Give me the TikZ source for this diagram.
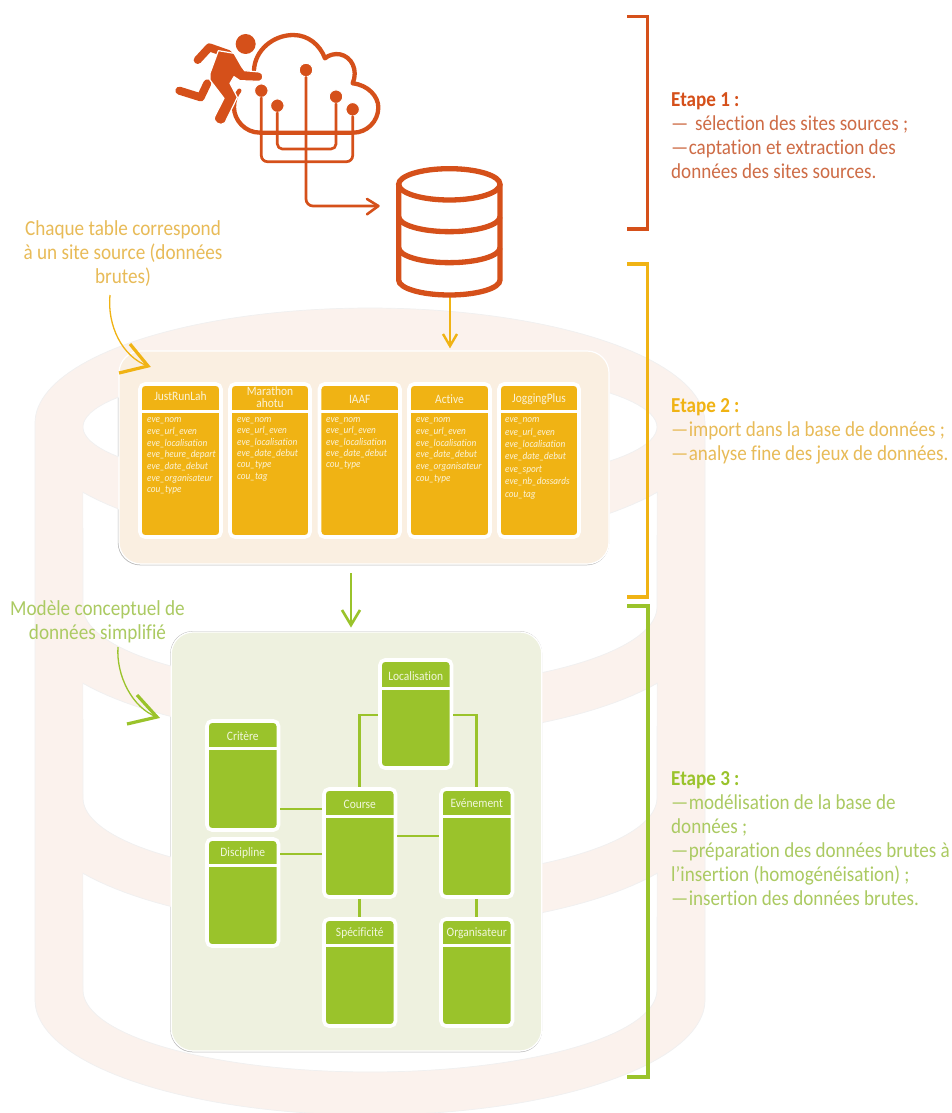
\documentclass[tikz,border=0pt]{standalone}
\usepackage{fontspec}
\setmainfont[FakeStretch=0.896,Ligatures=NoCommon]{Carlito}
\usetikzlibrary{calc}
\definecolor{rouge}{HTML}{D5501A}
\definecolor{rougetxt}{HTML}{CE6C46}
\definecolor{jaune}{HTML}{F0B314}
\definecolor{jaunetxt}{HTML}{E8BB58}
\definecolor{vert}{HTML}{9AC32B}
\definecolor{verttxt}{HTML}{ABCA62}
\definecolor{rosepale}{HTML}{FBF2ED}
\definecolor{panelj}{HTML}{FAEFE1}
\definecolor{panelv}{HTML}{EEF1DF}
\definecolor{bordg}{HTML}{BDBDBD}
\definecolor{titre}{HTML}{FBF3D8}
\definecolor{titrev}{HTML}{F1F6DC}
\tikzset{
  panelbox/.style={draw=white,line width=1.2pt,rounded corners=22pt,inner sep=0pt,outer sep=0pt},
  tablebox/.style={draw=white,line width=3.6pt,rounded corners=5pt,inner sep=0pt,outer sep=0pt},
  tabtitle/.style={inner sep=0pt,align=center,font=\fontsize{12.8}{12}\selectfont},
  field/.style={inner sep=0pt,anchor=north west,align=left,text=titre},
  stepline/.style={line width=3.6pt,line cap=butt,line join=miter},
  steptext/.style={inner sep=0pt,anchor=north west,align=left,font=\fontsize{21.3}{24}\selectfont},
  note/.style={inner sep=0pt,align=center,font=\fontsize{21.4}{24}\selectfont},
  iconline/.style={draw=rouge,line width=2.7pt,line cap=round,line join=round},
  dot/.style={circle,fill=rouge,draw=white,line width=1pt,minimum size=13.5pt,inner sep=0pt},
  link/.style={draw=vert,line width=2.8pt,shorten >=1.8pt,shorten <=1.8pt},
}
\newcommand{\dd}{—\kern-4pt\ }
% #1 name #2 x1 #3 y1 #4 x2 #5 y2 #6 fill #7 header line y
\newcommand{\tabbox}[7]{%
  \node[tablebox,fill=#6,minimum width={#4-#2},minimum height={#5-#3}] (#1) at ({(#2+#4)/2},{(#3+#5)/2}) {};
  \draw[white,line width=3pt] ({#2-1.5},#7) -- ({#4+1.5},#7);
}
\begin{document}
\begin{tikzpicture}[x=1pt,y=-1pt]
\useasboundingbox (0,0) rectangle (951,1113);
\clip (0,0) rectangle (951,1113);
\fill[white] (0,0) rectangle (951,1113);
% grey edges of the panels, visible only through the holes of the cylinder
\draw[bordg,line width=1pt,rounded corners=22pt] (118.3,350.6) rectangle (608.6,564.8);
\draw[bordg,line width=1pt,rounded corners=22pt] (170.8,631.6) rectangle (541.6,1051.8);
% big cylinder
\fill[rosepale,draw=gray!12,line width=.7pt,even odd rule]
  plot[domain=180:360,samples=90] ({370+335*cos(\x)},{423+115*sin(\x)})
  -- plot[domain=0:180,samples=90] ({370+335*cos(\x)},{1000+115*sin(\x)}) -- cycle
  plot[domain=0:360,samples=120] ({370+287*cos(\x)},{427+62*sin(\x)}) -- cycle
  plot[domain=149:31,samples=50] ({370+335*cos(\x)},{433+115*sin(\x)}) -- plot[domain=0:180,samples=70] ({370+287*cos(\x)},{607+82*sin(\x)}) -- cycle
  plot[domain=149:31,samples=50] ({370+335*cos(\x)},{624+115*sin(\x)}) -- plot[domain=0:180,samples=70] ({370+287*cos(\x)},{798+82*sin(\x)}) -- cycle
  plot[domain=149:31,samples=50] ({370+335*cos(\x)},{814+115*sin(\x)}) -- plot[domain=0:180,samples=70] ({370+287*cos(\x)},{990+82*sin(\x)}) -- cycle;
% panels
\node[panelbox,fill=panelj,minimum width=490,minimum height=213] (psrc) at (364,457.5) {};
\node[panelbox,fill=panelv,minimum width=370.5,minimum height=419] (pmcd) at (356.5,841.5) {};
% yellow tables
\tabbox{t1}{140}{384}{221}{537}{jaune}{411}
\tabbox{t2}{230}{384}{310}{537}{jaune}{411}
\tabbox{t3}{319.5}{384}{400}{537}{jaune}{411}
\tabbox{t4}{409}{384}{490}{537}{jaune}{411}
\tabbox{t5}{499}{384}{579}{537}{jaune}{411}
\node[tabtitle,text=titre] (t1t) at (t1.north |- 0,396.5) {JustRunLah};
\node[tabtitle,text=titre] (t2t) at (t2.north |- 0,397.5) {Marathon\\ahotu};
\node[tabtitle,text=titre] (t3t) at (t3.north |- 0,399) {IAAF};
\node[tabtitle,text=titre] (t4t) at (t4.north |- 0,399) {Active};
\node[tabtitle,text=titre] (t5t) at (t5.north |- 0,399) {JoggingPlus};
\node[field,font=\fontsize{10.3}{11.7}\selectfont\itshape] (t1f) at (147,417.5) {eve\_nom\\eve\_url\_even\\eve\_localisation\\eve\_heure\_depart\\eve\_date\_debut\\eve\_organisateur\\cou\_type};
\node[field,font=\fontsize{10.3}{11.3}\selectfont\itshape] (t2f) at (237,417.5) {eve\_nom\\eve\_url\_even\\eve\_localisation\\eve\_date\_debut\\cou\_type\\cou\_tag};
\node[field,font=\fontsize{10.3}{11.3}\selectfont\itshape] (t3f) at (326,417.5) {eve\_nom\\eve\_url\_even\\eve\_localisation\\eve\_date\_debut\\cou\_type};
\node[field,font=\fontsize{10.3}{11.7}\selectfont\itshape] (t4f) at (416,417.5) {eve\_nom\\eve\_url\_even\\eve\_localisation\\eve\_date\_debut\\eve\_organisateur\\cou\_type};
\node[field,font=\fontsize{10.3}{12.4}\selectfont\itshape] (t5f) at (505,417.5) {eve\_nom\\eve\_url\_even\\eve\_localisation\\eve\_date\_debut\\eve\_sport\\eve\_nb\_dossards\\cou\_tag};
% green tables
\tabbox{loc}{380}{660}{451.5}{768}{vert}{688}
\tabbox{cri}{207}{721}{278.5}{830}{vert}{748.5}
\tabbox{dis}{207}{839}{278.5}{946}{vert}{865.5}
\tabbox{crs}{324}{789}{395.5}{897}{vert}{816.5}
\tabbox{evt}{441}{789}{512.5}{897}{vert}{816.5}
\tabbox{spe}{324}{919}{395.5}{1026}{vert}{945.5}
\tabbox{org}{441}{919}{512.5}{1026}{vert}{945.5}
\node[tabtitle,text=titrev] (loct) at (loc.north |- 0,676) {Localisation};
\node[tabtitle,text=titrev] (crit) at (cri.north |- 0,736) {Critère};
\node[tabtitle,text=titrev] (dist) at (dis.north |- 0,853) {Discipline};
\node[tabtitle,text=titrev] (crst) at (crs.north |- 0,804.5) {Course};
\node[tabtitle,text=titrev] (evtt) at (evt.north |- 0,803) {Evénement};
\node[tabtitle,text=titrev] (spet) at (spe.north |- 0,933) {Spécificité};
\node[tabtitle,text=titrev] (orgt) at (org.north |- 0,933) {Organisateur};
% green links
\draw[link] (cri.east |- 0,809) -- (crs.west |- 0,809);
\draw[link] (dis.east |- 0,854) -- (crs.west |- 0,854);
\draw[link] (crs.east |- 0,836) -- (evt.west |- 0,836);
\draw[link] (crs.south) -- (spe.north);
\draw[link] (evt.south) -- (org.north);
\draw[link] (loc.west |- 0,715) -| (crs.north);
\draw[link] (loc.east |- 0,715) -| (evt.north);
% arrows between stages
\coordinate (dbout) at (450,296);
\coordinate (srcin) at (450,346);
\draw[jaune,line width=2.6pt] (dbout) -- (srcin);
\draw[jaune,line width=2.4pt,line join=miter] (443,334) -- (srcin) -- (457,334);
\coordinate (srcout) at (351,573);
\coordinate (mcdin) at (351,625);
\draw[vert,line width=2.8pt] (srcout) -- (mcdin);
\draw[vert,line width=2.6pt,line join=miter] (342,610) -- (mcdin) -- (360,610);
% source icon
\begin{scope}[shift={(160,20)},scale=1/3]
  \draw[draw=rouge,line width=4.3pt,line cap=round,line join=round]
    (282,150) .. controls (285,90) and (340,45) .. (400,45)
    .. controls (445,45) and (480,75) .. (495,115)
    .. controls (505,105) and (525,100) .. (540,103)
    .. controls (575,110) and (595,150) .. (578,190)
    .. controls (625,195) and (655,230) .. (655,262)
    .. controls (655,305) and (620,338) .. (580,338)
    -- (300,338)
    .. controls (255,338) and (222,300) .. (222,262)
    .. controls (222,240) and (228,225) .. (238,212);
  \node[dot] (d1) at (438,150) {};
  \node[dot] (d2) at (304,212) {};
  \node[dot] (d3) at (352,257) {};
  \node[dot] (d4) at (528,230) {};
  \node[dot] (d5) at (578,268) {};
  \coordinate (dbin) at (655,558);
  \draw[iconline,rounded corners=6pt] (d2) -- (304,425) -- (578,425) -- (d5);
  \draw[iconline,rounded corners=5pt] (d3) -- (352,387) -- (528,387) -- (d4);
  \draw[iconline,rounded corners=7pt] (d1) -- (438,558) -- (dbin);
  \draw[iconline,line width=2.6pt] (621,537) -- (dbin) -- (621,583);
  % runner
  \node[circle,fill=rouge,minimum size=20pt,inner sep=0pt] (head) at (257,72) {};
  \draw[white,line width=11pt,line cap=round,line join=round] (113,120) -- (148,82) -- (205,102);
  \draw[rouge,line width=8pt,line cap=round,line join=round] (113,120) -- (148,82) -- (205,102);
  \draw[white,line width=11pt,line cap=round,line join=round] (58,212) -- (122,232) -- (142,190);
  \draw[rouge,line width=8pt,line cap=round,line join=round] (58,212) -- (122,232) -- (142,190);
  \fill[rouge,draw=white,line width=1.2pt,line join=round]
    (175,92) -- (222,100) -- (245,140) -- (254,152) -- (298,156)
    .. controls (312,158) and (312,182) .. (298,184)
    -- (240,182) -- (222,170) -- (210,190) -- (232,232) -- (195,308)
    .. controls (182,322) and (155,305) .. (165,288)
    -- (192,235) -- (150,180) -- (150,160) -- cycle;
  % database
  \begin{scope}[rouge,line width=5.3pt]
    \draw (868,493) ellipse [x radius=152,y radius=47];
    \draw (716,493) -- (716,780) arc[start angle=180,end angle=0,x radius=152,y radius=45] -- (1020,493);
    \draw (716,590) arc[start angle=180,end angle=0,x radius=152,y radius=45];
    \draw (716,683) arc[start angle=180,end angle=0,x radius=152,y radius=45];
  \end{scope}
\end{scope}
% brackets
\draw[rouge,stepline] (627,16.5) -- (647.5,16.5) -- (647.5,229) -- (627,229);
\draw[jaune,stepline] (627,264) -- (647.5,264) -- (647.5,597) -- (627,597);
\draw[vert,stepline] (627,606) -- (648,606) -- (648,1077) -- (627,1077);
% step texts
\node[steptext,text=rougetxt] (s1) at (671,92) {\textbf{\textcolor{rouge}{Etape 1 :}}\\—\kern-4pt\enspace sélection des sites sources ;\\\dd captation et extraction des\\données des sites sources.};
\node[steptext,text=jaunetxt] (s2) at (671,398) {\textbf{\textcolor{jaune}{Etape 2 :}}\\\dd import dans la base de données ;\\\dd analyse fine des jeux de données.};
\node[steptext,text=verttxt] (s3) at (671,771) {\textbf{\textcolor{vert}{Etape 3 :}}\\\dd modélisation de la base de\\données ;\\\dd préparation des données brutes à\\l’insertion (homogénéisation) ;\\\dd insertion des données brutes.};
% notes
\node[note,text=jaunetxt] (n1) at (123,253.5) {Chaque table correspond\\à un site source (données\\brutes)};
\node[note,text=verttxt] (n2) at (97.5,621.5) {Modèle conceptuel de\\données simplifié};
\coordinate (n1a) at (110,295);
\coordinate (n1b) at (148,366);
\draw[jaune,line width=1.3pt] (n1a) .. controls (107,325) and (122,357) .. (n1b);
\draw[jaune,line width=3.2pt,line join=miter] (130,344) -- (n1b) -- (119,373);
\coordinate (n2a) at (118,647);
\coordinate (n2b) at (157,717);
\draw[vert,line width=1.3pt] (n2a) .. controls (116,675) and (132,708) .. (n2b);
\draw[vert,line width=3.2pt,line join=miter] (137,695) -- (n2b) -- (127,724);
\end{tikzpicture}
\end{document}
